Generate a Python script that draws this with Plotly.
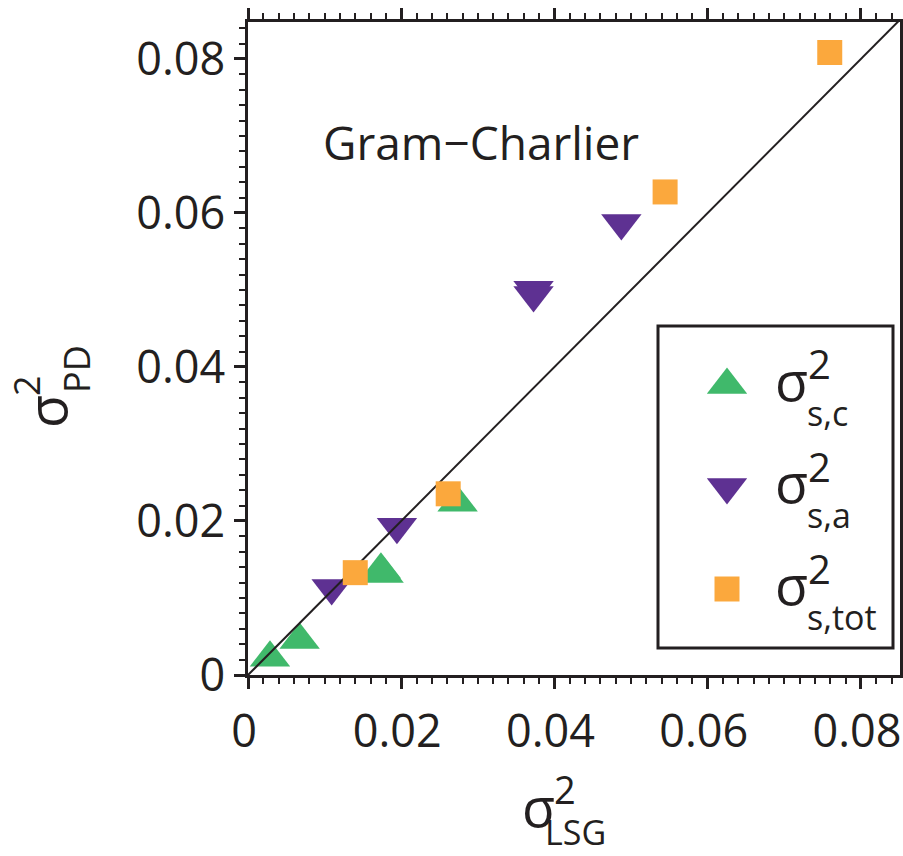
import plotly.graph_objects as go

# ---------------- data ----------------
series_labels = ["s,c", "s,a", "s,tot"]
series_colors = ["#40b96b", "#5e3192", "#fba83d"]
series_symbols = ["triangle-up", "triangle-down", "square"]

green_x = [0.00287, 0.00674, 0.01735, 0.0177, 0.02736]
green_y = [0.00225, 0.00456, 0.01368, 0.0131, 0.02238]
purple_x = [0.01092, 0.01944, 0.03727, 0.03727, 0.04873]
purple_y = [0.0113, 0.01926, 0.05004, 0.04934, 0.0587]
orange_x = [0.0140, 0.02613, 0.05444, 0.07593]
orange_y = [0.01329, 0.02353, 0.06273, 0.08084]

diag_x = [0, 0.0851]
diag_y = [0, 0.0851]

tick_vals = [0, 0.02, 0.04, 0.06, 0.08]
tick_text = ["0", "0.02", "0.04", "0.06", "0.08"]

# ---------------- layout constants ----------------
W, H = 903, 856
L, R, T, B = 248, 900, 22, 675
FONT = "Open Sans"
INK = "#231f20"
TRI = 35
SQ = 25


def px(xp):
    return (xp - L) / (R - L)


def py(yp):
    return (B - yp) / (B - T)


fig = go.Figure()

fig.add_trace(go.Scatter(x=green_x, y=green_y, mode="markers", showlegend=False,
                         marker=dict(symbol=series_symbols[0], size=TRI, color=series_colors[0],
                                     line=dict(width=0))))
fig.add_trace(go.Scatter(x=purple_x, y=purple_y, mode="markers", showlegend=False,
                         marker=dict(symbol=series_symbols[1], size=TRI, color=series_colors[1],
                                     line=dict(width=0))))
fig.add_trace(go.Scatter(x=diag_x, y=diag_y, mode="lines", showlegend=False,
                         line=dict(color=INK, width=2)))
fig.add_trace(go.Scatter(x=orange_x, y=orange_y, mode="markers", showlegend=False,
                         marker=dict(symbol=series_symbols[2], size=SQ, color=series_colors[2],
                                     line=dict(width=0))))

# ---------------- custom legend ----------------
legend_key_x = px(727)
legend_row_px = [385, 487, 589]
sym_sizes = [TRI, TRI, SQ]
for i, lab in enumerate(series_labels):
    fig.add_trace(go.Scatter(x=[legend_key_x], y=[py(legend_row_px[i])], xaxis="x2", yaxis="y2",
                             mode="markers", showlegend=False, hoverinfo="skip",
                             marker=dict(symbol=series_symbols[i], size=sym_sizes[i],
                                         color=series_colors[i], line=dict(width=0))))

annotations = []
text_rows = [386, 488, 590]
for i, lab in enumerate(series_labels):
    r = text_rows[i]
    annotations.append(dict(text="σ", x=px(791), y=py(r - 6), xref="paper", yref="paper",
                            showarrow=False, xanchor="center", yanchor="middle",
                            font=dict(family=FONT, size=54, color=INK)))
    annotations.append(dict(text="2", x=px(806), y=py(r - 22), xref="paper", yref="paper",
                            showarrow=False, xanchor="left", yanchor="middle",
                            font=dict(family=FONT, size=40, color=INK)))
    annotations.append(dict(text=lab, x=px(805), y=py(r + 27), xref="paper", yref="paper",
                            showarrow=False, xanchor="left", yanchor="middle",
                            font=dict(family=FONT, size=34, color=INK)))

# inline label
annotations.append(dict(text="Gram\u2212Charlier", x=px(481), y=py(142), xref="paper", yref="paper",
                        showarrow=False, xanchor="center", yanchor="middle",
                        font=dict(family=FONT, size=46, color=INK)))

# x axis title
annotations.append(dict(text="σ", x=px(538), y=py(806), xref="paper", yref="paper",
                        showarrow=False, xanchor="center", yanchor="middle",
                        font=dict(family=FONT, size=54, color=INK)))
annotations.append(dict(text="2", x=px(552), y=py(789), xref="paper", yref="paper",
                        showarrow=False, xanchor="left", yanchor="middle",
                        font=dict(family=FONT, size=38, color=INK)))
annotations.append(dict(text="LSG", x=px(543), y=py(832), xref="paper", yref="paper",
                        showarrow=False, xanchor="left", yanchor="middle",
                        font=dict(family=FONT, size=34, color=INK)))

# y axis title (rotated)
annotations.append(dict(text="σ", x=px(46), y=py(412), xref="paper", yref="paper",
                        showarrow=False, xanchor="center", yanchor="middle", textangle=-90,
                        font=dict(family=FONT, size=54, color=INK)))
annotations.append(dict(text="2", x=px(26), y=py(386), xref="paper", yref="paper",
                        showarrow=False, xanchor="center", yanchor="middle", textangle=-90,
                        font=dict(family=FONT, size=36, color=INK)))
annotations.append(dict(text="PD", x=px(76), y=py(369), xref="paper", yref="paper",
                        showarrow=False, xanchor="center", yanchor="middle", textangle=-90,
                        font=dict(family=FONT, size=36, color=INK)))

shapes = [dict(type="rect", xref="paper", yref="paper",
               x0=px(658), x1=px(893), y0=py(648), y1=py(326),
               line=dict(color=INK, width=3), fillcolor="rgba(0,0,0,0)")]

axis_common = dict(
    showline=True, linewidth=2.5, linecolor=INK, mirror="ticks",
    ticks="outside", ticklen=11, tickwidth=2.5, tickcolor=INK,
    tickmode="array", tickvals=tick_vals, ticktext=tick_text,
    minor=dict(ticks="outside", ticklen=6, tickwidth=2, tickcolor=INK, dtick=0.002, tick0=0,
               showgrid=False),
    showgrid=False, zeroline=False, automargin=False, ticklabeloverflow="allow",
    tickfont=dict(family=FONT, size=45, color=INK),
)

fig.update_layout(
    width=W, height=H, autosize=False,
    margin=dict(l=L, r=W - R, t=T, b=H - B, pad=0, autoexpand=False),
    paper_bgcolor="white", plot_bgcolor="white",
    xaxis=dict(range=[0, 0.0851], ticklabelstandoff=4, ticklabelshift=-4, **axis_common),
    yaxis=dict(range=[0, 0.0848], **axis_common),
    xaxis2=dict(range=[0, 1], overlaying="x", visible=False, anchor="y2", domain=[0, 1]),
    yaxis2=dict(range=[0, 1], overlaying="y", visible=False, anchor="x2", domain=[0, 1]),
    annotations=annotations,
    shapes=shapes,
    showlegend=False,
)

fig.write_html("out.html")
